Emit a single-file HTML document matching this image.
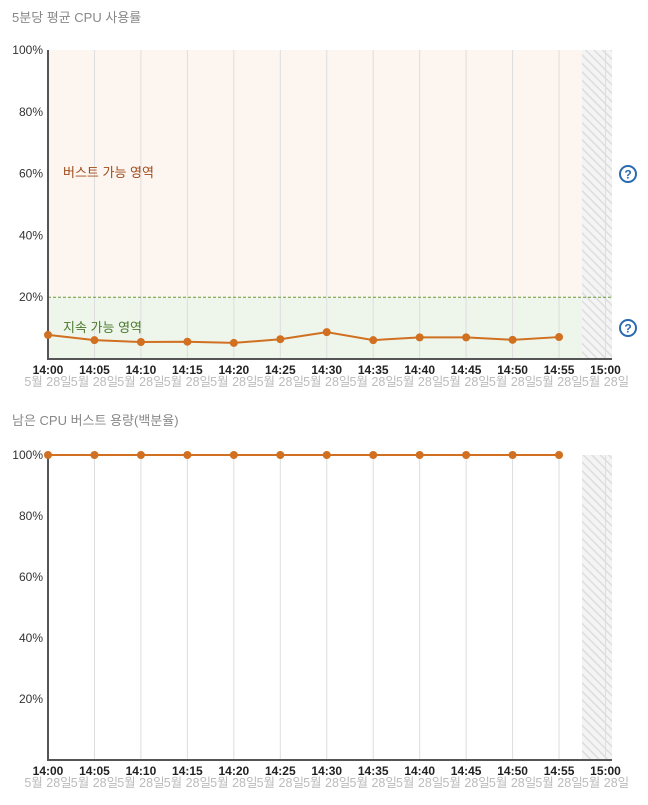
<!DOCTYPE html>
<html><head><meta charset="utf-8"><style>
body{margin:0;background:#fff;width:648px;height:800px;overflow:hidden;font-family:"Liberation Sans","Noto Sans CJK KR",sans-serif}
svg text{font-family:"Liberation Sans","Noto Sans CJK KR",sans-serif}
</style></head><body>
<svg id="s" width="648" height="800">
<defs><pattern id="hatch" width="6" height="6" patternUnits="userSpaceOnUse" patternTransform="rotate(-45)"><rect width="6" height="6" fill="#f4f4f4"/><line x1="0" y1="0" x2="0" y2="6" stroke="#ddd" stroke-width="3"/></pattern></defs>
</svg>
<script>
const times=["14:00","14:05","14:10","14:15","14:20","14:25","14:30","14:35","14:40","14:45","14:50","14:55","15:00"];
const cpuValues=[7.8,6.1,5.5,5.6,5.2,6.4,8.7,6.1,7.0,7.0,6.2,7.1];
const creditValues=[100,100,100,100,100,100,100,100,100,100,100,100];
const yTicks=[20,40,60,80,100];
const s=document.getElementById('s');
const NS='http://www.w3.org/2000/svg';
function mk(t,a,txt){const e=document.createElementNS(NS,t);for(const k in a)e.setAttribute(k,a[k]);if(txt!==undefined)e.textContent=txt;s.appendChild(e);return e;}
const x=i=>48+i*(557.5/12);
function chart(top,bottom,titleY,title,vals,zones,id){
  const y=v=>bottom-(bottom-top)*v/100;
  let e=mk('text',{x:12,y:titleY,'font-size':13,fill:'#888'},title);
  
  if(zones){
    e=mk('rect',{x:48,y:top,width:534,height:y(20)-top,fill:'#fdf6f0'});
    
    e=mk('rect',{x:48,y:y(20),width:534,height:bottom-y(20),fill:'#eef6ec'});
    
  }
  e=mk('rect',{x:582,y:top,width:30,height:bottom-top,fill:'url(#hatch)'});
  
  for(let i=1;i<times.length;i++){e=mk('line',{x1:x(i),x2:x(i),y1:top,y2:bottom,stroke:'#ddd'});
    }
  yTicks.forEach(t=>{e=mk('text',{x:43,y:y(t)+4,'font-size':12,'text-anchor':'end',fill:'#333'},t+'%');
    });
  if(zones){
    e=mk('line',{x1:48,x2:612,y1:y(20),y2:y(20),stroke:'#6a9a3a','stroke-dasharray':'3,2'});
    
    e=mk('text',{x:63,y:177,'font-size':13,fill:'#a04a1a'},'버스트 가능 영역');
    
    e=mk('text',{x:63,y:332,'font-size':13,fill:'#4a7a2a'},'지속 가능 영역');
    
    [174,328].forEach((cy,k)=>{const g=mk('circle',{cx:628,cy:cy,r:8,fill:'none',stroke:'#2a6ab0','stroke-width':2});
      
      const t=mk('text',{x:628,y:cy+4.5,'font-size':12,'font-weight':'bold','text-anchor':'middle',fill:'#2a6ab0'},'?');
      });
  }
  e=mk('path',{d:`M48 ${top}V${bottom}H612`,fill:'none',stroke:'#555','stroke-width':2});
  
  times.forEach((t,i)=>{e=mk('text',{x:x(i),y:bottom+15,'font-size':12,'font-weight':'bold','text-anchor':'middle',fill:'#222'},t);
    
    e=mk('text',{x:x(i),y:bottom+27,'font-size':12.5,'text-anchor':'middle',fill:'#bbb'},'5월 28일');
    });
  e=mk('polyline',{points:vals.map((v,i)=>x(i)+','+y(v)).join(' '),fill:'none',stroke:'#d07020','stroke-width':2});
  
  vals.forEach((v,i)=>{e=mk('circle',{cx:x(i),cy:y(v),r:4,fill:'#d07020'});
    });
}
chart(50,359,22,'5분당 평균 CPU 사용률',cpuValues,true,'cpu-usage');
chart(455,760,425,'남은 CPU 버스트 용량(백분율)',creditValues,false,'burst-credit');
</script>
</body></html>
